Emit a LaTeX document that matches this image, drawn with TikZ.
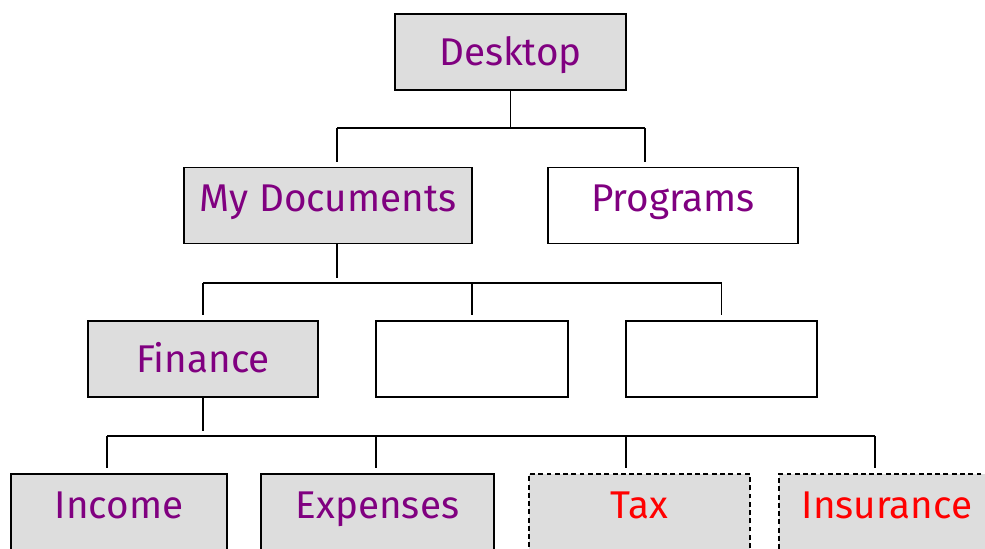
\documentclass[tikz,border=0pt]{standalone}
\usepackage{fontspec}
\setmainfont{Fira Sans}
\usepackage{tikz}
\usetikzlibrary{positioning, calc}
\definecolor{FolderPurple}{HTML}{800080}
\definecolor{FolderGrey}{HTML}{DDDDDD}
\definecolor{NewRed}{HTML}{FF0000}
\tikzset{
  folder/.style={rectangle, draw=black, line width=1.1pt, minimum height=1.52cm, inner sep=0pt, font=\fontsize{22}{26}\selectfont, text=FolderPurple, text height=0.54cm, text depth=0cm},
  openfolder/.style={folder, fill=FolderGrey},
  newfolder/.style={openfolder, dash pattern=on 2.8pt off 1.9pt, text=NewRed},
  raised/.style={text depth=0.3cm},
  branch/.style={line width=0.6pt},
  gapbranch/.style={branch, shorten >=0.1cm}
}

\begin{document}
\begin{tikzpicture}
  \useasboundingbox (0,0) rectangle (19.7,-10.96);
  \clip (0,0) rectangle (19.7,-10.96);

  % Folder boxes
  \node[openfolder, minimum width=4.62cm] (desktop) at (10.21,-1.04) {Desktop};
  \node[openfolder, raised, minimum width=5.76cm] (mydocs) at (6.56,-4.11) {My Documents};
  \node[folder, raised, minimum width=5cm, fill=white] (programs) at (13.46,-4.11) {Programs};
  \node[openfolder, minimum width=4.6cm] (finance) at (4.06,-7.18) {Finance};
  \node[folder, minimum width=3.84cm] (emptyA) at (9.44,-7.18) {};
  \node[folder, minimum width=3.82cm] (emptyB) at (14.43,-7.18) {};
  \node[openfolder, raised, minimum width=4.32cm] (income) at (2.38,-10.24) {Income};
  \node[openfolder, raised, minimum width=4.66cm] (expenses) at (7.55,-10.24) {Expenses};
  \node[newfolder, raised, minimum width=4.42cm] (tax) at (12.79,-10.24) {Tax};
  \node[newfolder, raised, minimum width=4.32cm] (insurance) at (17.74,-10.24) {Insurance};

  % Desktop branch
  \coordinate (barA) at (0,-2.56);
  \draw[branch] (desktop.south) -- (desktop.south |- barA);
  \draw[branch] (6.74,0 |- barA) -- (12.9,0 |- barA);
  \draw[gapbranch] (6.74,0 |- barA) -- (6.74,0 |- mydocs.north);
  \draw[gapbranch] (12.9,0 |- barA) -- (12.9,0 |- programs.north);

  % My Documents branch
  \coordinate (barB) at (0,-5.66);
  \draw[gapbranch] (6.74,0 |- mydocs.south) -- (6.74,0 |- barB);
  \draw[branch] (barB -| finance) -- (barB -| emptyB);
  \foreach \kid in {finance, emptyA, emptyB}
    \draw[gapbranch] (barB -| \kid) -- (\kid.north);

  % Finance branch
  \coordinate (barC) at (0,-8.72);
  \draw[gapbranch] (finance.south) -- (finance.south |- barC);
  \draw[branch] (2.14,0 |- barC) -- (17.5,0 |- barC);
  \foreach \x/\kid in {2.14/income, 7.52/expenses, 12.52/tax, 17.5/insurance}
    \draw[gapbranch] (\x,0 |- barC) -- (\x,0 |- \kid.north);
\end{tikzpicture}
\end{document}
